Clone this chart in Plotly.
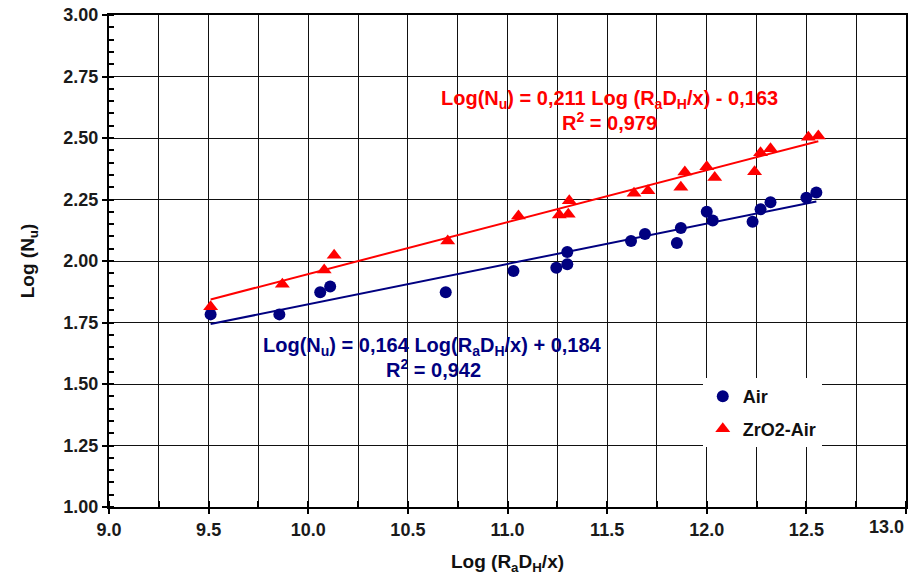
import numpy as np
import plotly.graph_objects as go

# ---- data ----
air_x = [9.51, 9.855, 10.06, 10.11, 10.69, 11.03, 11.245, 11.30, 11.30, 11.62,
         11.69, 11.85, 11.87, 12.00, 12.03, 12.23, 12.27, 12.32, 12.50, 12.55]
air_y = [1.783, 1.783, 1.873, 1.896, 1.873, 1.959, 1.973, 1.987, 2.037, 2.081,
         2.110, 2.073, 2.134, 2.200, 2.165, 2.160, 2.210, 2.239, 2.257, 2.278]

zro2_x = [9.51, 9.87, 10.08, 10.13, 10.70, 11.055, 11.26, 11.305, 11.31, 11.635,
          11.705, 11.87, 11.89, 12.00, 12.04, 12.24, 12.27, 12.32, 12.51, 12.56]
zro2_y = [1.814, 1.905, 1.963, 2.023, 2.081, 2.183, 2.187, 2.190, 2.245, 2.275,
          2.286, 2.300, 2.362, 2.383, 2.339, 2.363, 2.440, 2.456, 2.503, 2.508]

air_fit = (0.164, 0.184)     # slope, intercept
zro2_fit = (0.211, -0.163)

x_ticks = [9.0, 9.5, 10.0, 10.5, 11.0, 11.5, 12.0, 12.5, 13.0]
y_ticks = [1.00, 1.25, 1.50, 1.75, 2.00, 2.25, 2.50, 2.75, 3.00]

NAVY = "#000080"
RED = "#FF0000"
FONT = "Liberation Sans, Arial, sans-serif"

fig = go.Figure()

def fit_line(xs, coef):
    xx = np.array([min(xs), max(xs)])
    return xx, coef[0] * xx + coef[1]

fx, fy = fit_line(zro2_x, zro2_fit)
fig.add_trace(go.Scatter(x=fx, y=fy, mode="lines", line=dict(color=RED, width=2),
                         showlegend=False, hoverinfo="skip"))
fx, fy = fit_line(air_x, air_fit)
fig.add_trace(go.Scatter(x=fx, y=fy, mode="lines", line=dict(color=NAVY, width=2),
                         showlegend=False, hoverinfo="skip"))

fig.add_trace(go.Scatter(x=air_x, y=air_y, mode="markers", name="<b>Air</b>",
                         legendgroup="a",
                         marker=dict(symbol="circle", size=12, color=NAVY)))
fig.add_trace(go.Scatter(x=zro2_x, y=zro2_y, mode="markers", name="<b>ZrO2-Air</b>",
                         legendgroup="b",
                         marker=dict(symbol="triangle-up", size=13, color=RED)))

eq_font_r = dict(family=FONT, size=20, color=RED)
eq_font_b = dict(family=FONT, size=20, color=NAVY)
fig.add_annotation(x=11.51, y=2.656, xref="x", yref="y", showarrow=False,
                   text="<b>Log(N<sub>u</sub>) = 0,211 Log (R<sub>a</sub>D<sub>H</sub>/x) - 0,163</b>",
                   font=eq_font_r)
fig.add_annotation(x=11.51, y=2.569, xref="x", yref="y", showarrow=False,
                   text="<b>R<sup>2</sup> = 0,979</b>", font=eq_font_r)
fig.add_annotation(x=10.625, y=1.652, xref="x", yref="y", showarrow=False,
                   text="<b>Log(N<sub>u</sub>) = 0,164 Log(R<sub>a</sub>D<sub>H</sub>/x) + 0,184</b>",
                   font=eq_font_b)
fig.add_annotation(x=10.63, y=1.562, xref="x", yref="y", showarrow=False,
                   text="<b>R<sup>2</sup> = 0,942</b>", font=eq_font_b)

# last x tick label sits flush with the right edge, as in the reference
tick_labels_x = [f"<b>{v:.1f}</b>" for v in x_ticks]
last_label = tick_labels_x[-1]
tick_labels_x[-1] = ""
fig.add_annotation(x=x_ticks[-1], y=0, xref="x", yref="paper", yshift=-8,
                   xanchor="right", yanchor="top", showarrow=False,
                   text=last_label, font=dict(family=FONT, size=18, color="#1a1a1a"))

fig.update_layout(
    width=912, height=581,
    margin=dict(l=109, r=6, t=15, b=74, autoexpand=False),
    paper_bgcolor="white", plot_bgcolor="white",
    font=dict(family=FONT, size=18, color="#1a1a1a"),
    legend=dict(x=0.745, y=0.262, xanchor="left", yanchor="top",
                bgcolor="white", borderwidth=0, tracegroupgap=6,
                traceorder="grouped",
                font=dict(family=FONT, size=18, color="#111")),
)

fig.update_xaxes(
    range=[9, 13], tickvals=x_ticks, ticktext=tick_labels_x,
    automargin=False,
    showgrid=True, gridcolor="#111", gridwidth=1,
    showline=True, linecolor="black", linewidth=2, mirror=True,
    ticks="outside", ticklen=5, tickcolor="black", tickwidth=1.5,
    minor=dict(dtick=0.25, tick0=9, ticks="inside", ticklen=6, tickcolor="black",
               showgrid=True, gridcolor="#111", gridwidth=1),
    zeroline=False,
    title=dict(text="<b>Log (R<sub>a</sub>D<sub>H</sub>/x)</b>", standoff=16,
               font=dict(family=FONT, size=19, color="#111")),
    tickfont=dict(family=FONT, size=18, color="#1a1a1a"),
)
fig.update_yaxes(
    range=[1, 3], tickvals=y_ticks, ticktext=[f"<b>{v:.2f}</b>" for v in y_ticks],
    automargin=False,
    showgrid=True, gridcolor="#111", gridwidth=1,
    showline=True, linecolor="black", linewidth=2, mirror=True,
    ticks="outside", ticklen=5, tickcolor="black", tickwidth=1.5,
    minor=dict(dtick=0.05, tick0=1, ticks="inside", ticklen=5, tickcolor="black",
               showgrid=False),
    zeroline=False,
    title=dict(text="<b>Log (N<sub>u</sub>)</b>", standoff=24,
               font=dict(family=FONT, size=19, color="#111")),
    tickfont=dict(family=FONT, size=18, color="#1a1a1a"),
)

fig.write_html("out.html", config={"displayModeBar": False},
               post_script="document.body.style.margin='0px';document.body.style.overflow='hidden';")
